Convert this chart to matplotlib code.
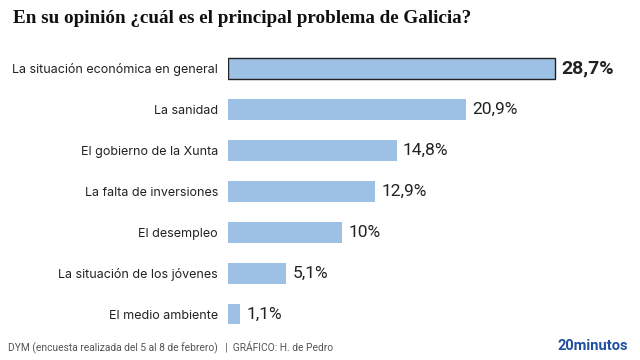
import matplotlib
matplotlib.use("Agg")
from matplotlib import pyplot as plt
from matplotlib import transforms

categories = ["La situación económica en general", "La sanidad", "El gobierno de la Xunta",
              "La falta de inversiones", "El desempleo", "La situación de los jóvenes",
              "El medio ambiente"]
values = [28.7, 20.9, 14.8, 12.9, 10, 5.1, 1.1]
value_labels = ["28,7%", "20,9%", "14,8%", "12,9%", "10%", "5,1%", "1,1%"]

bar_color = "#9dc1e4"

fig = plt.figure(figsize=(6.4, 3.6), dpi=100)
ax = fig.add_axes([0.356, 0.0594, 0.624, 0.8194])

ypos = list(range(len(categories)))
bars = ax.barh(ypos, values, height=0.51, color=bar_color, edgecolor="none")
bars[0].set_edgecolor("#222222")
bars[0].set_linewidth(1.0)

ax.set_xlim(0, 35)
ax.set_ylim(6.6, -0.6)
ax.set_yticks(ypos)
ax.set_yticklabels(categories, fontsize=9, family="Inter", color="#222222")
ax.tick_params(axis="y", length=0, pad=7)
ax.set_xticks([])
for s in ax.spines.values():
    s.set_visible(False)

offset = transforms.offset_copy(ax.transData, fig=fig, x=4.5, y=0, units="points")
for i, (v, lab) in enumerate(zip(values, value_labels)):
    if i == 0:
        ax.text(v, i, lab, transform=offset, va="center", ha="left", fontsize=14,
                fontweight="bold", family="Roboto", color="#222222")
    else:
        ax.text(v, i, lab, transform=offset, va="center", ha="left", fontsize=12.5,
                family="Roboto", color="#222222")

fig.text(0.02, 0.948, "En su opinión ¿cuál es el principal problema de Galicia?",
         fontsize=13.8, fontweight="bold", family="Liberation Serif", color="#111111",
         va="center")
fig.text(0.0125, 0.036, "DYM (encuesta realizada del 5 al 8 de febrero)   |  GRÁFICO: H. de Pedro",
         fontsize=7.4, family="Roboto", color="#555555", va="center")
fig.text(0.982, 0.04, "20minutos", fontsize=10.5, fontweight="bold", family="Roboto",
         color="#1f4f9e", ha="right", va="center")

fig.savefig("out.png", dpi=100)
